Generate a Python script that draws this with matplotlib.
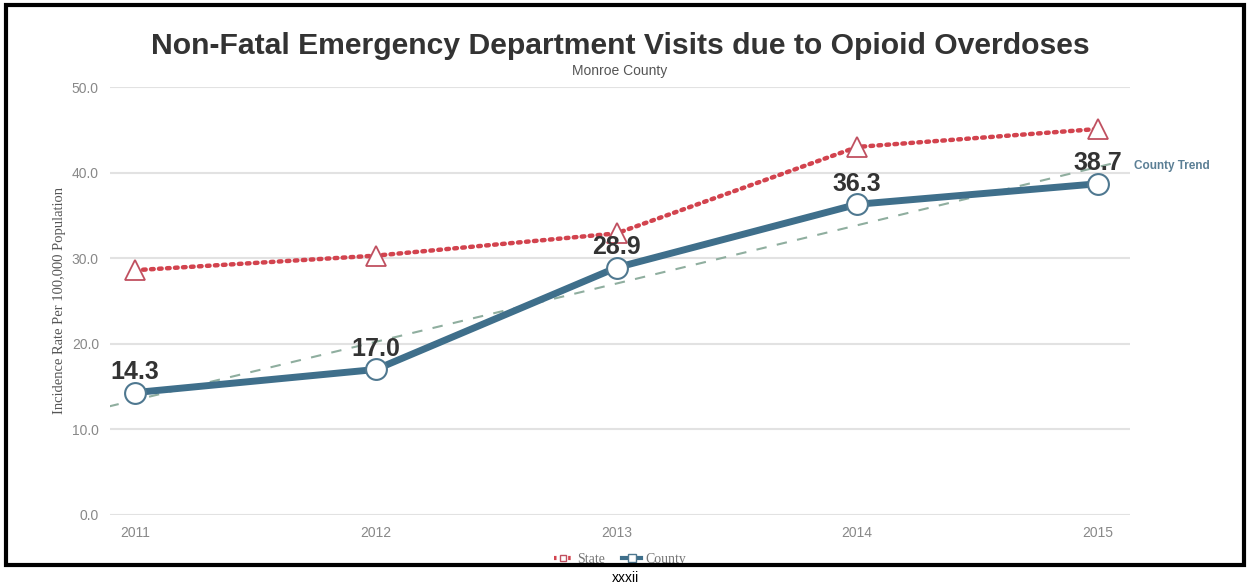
import numpy as np
import matplotlib
matplotlib.use("Agg")
import matplotlib.pyplot as plt
from matplotlib.patches import Rectangle
from matplotlib.lines import Line2D

years = [2011, 2012, 2013, 2014, 2015]
state = [28.6, 30.3, 32.9, 43.0, 45.1]
county = [14.3, 17.0, 28.9, 36.3, 38.7]
county_labels = ["14.3", "17.0", "28.9", "36.3", "38.7"]
yticks = [0, 10, 20, 30, 40, 50]

fig = plt.figure(figsize=(12.5, 5.86), dpi=100)
ax = fig.add_axes([0.088, 0.1212, 0.816, 0.7303])

# trend (least squares fit of the county series)
coef = np.polyfit(years, county, 1)
tx = np.array([2010.89, 2015.08])
ax.plot(tx, np.polyval(coef, tx), color="#8fae9f", lw=1.5, ls=(0, (5, 5)), zorder=2)

ax.plot(years, state, color="#d2434e", lw=3.2, ls=(0, (0.6, 1.2)),
        dash_capstyle="round", zorder=3)
ax.plot(years, state, ls="none", marker="^", ms=14, mfc="white",
        mec="#c05060", mew=1.3, zorder=4, clip_on=False)

ax.plot(years, county, color="#3f6f8b", lw=5, zorder=5, solid_capstyle="round")
ax.plot(years, county, ls="none", marker="o", ms=15, mfc="white",
        mec="#4f7890", mew=1.5, zorder=6, clip_on=False)

for x, y, s in zip(years, county, county_labels):
    ax.annotate(s, (x, y), xytext=(0, 6), textcoords="offset points",
                ha="center", va="bottom", fontsize=18, fontweight="bold",
                color="#333333", family="Liberation Sans", zorder=7)

ax.text(2015.15, 40.8, "County Trend", fontsize=8.5,
        fontweight="bold", color="#5b7f95", va="center", ha="left",
        family="Liberation Sans", clip_on=False)

ax.set_xlim(2010.896, 2015.133)
ax.set_ylim(0, 50)
ax.set_yticks(yticks)
ax.set_yticklabels([f"{v:.1f}" for v in yticks])
ax.set_xticks(years)
ax.set_xticklabels([str(y) for y in years])
ax.tick_params(length=0, labelsize=10, labelcolor="#888888", pad=8)
for lab in ax.get_xticklabels() + ax.get_yticklabels():
    lab.set_family("Liberation Sans")
ax.grid(axis="y", color="#e2e2e2", lw=1.5)
ax.set_axisbelow(True)
for sp in ax.spines.values():
    sp.set_visible(False)

ax.set_ylabel("Incidence Rate Per 100,000 Population", family="Liberation Serif",
              fontsize=10.5, color="#555555", labelpad=4)

fig.text(0.496, 0.921, "Non-Fatal Emergency Department Visits due to Opioid Overdoses",
         ha="center", va="center", fontsize=21.7, fontweight="bold",
         color="#333333", family="Liberation Sans")
fig.text(0.496, 0.879, "Monroe County", ha="center", va="center", fontsize=10,
         color="#555555", family="Liberation Sans")

handles = [Line2D([], [], color="#d2434e", lw=3, ls=(0, (0.6, 1.1)), marker="s",
                  ms=5, mfc="white", mec="#c05060"),
           Line2D([], [], color="#3f6f8b", lw=3, marker="s", ms=6,
                  mfc="white", mec="#4f7890")]
leg = fig.legend(handles, ["State", "County"], loc="center",
                 bbox_to_anchor=(0.496, 0.045), ncol=2, frameon=False,
                 prop={"family": "Liberation Serif", "size": 10},
                 handlelength=1.4, handletextpad=0.3, columnspacing=1.2,
                 labelcolor="#777777")

fig.patches.append(Rectangle((0.005, 0.036), 0.99, 0.955, transform=fig.transFigure,
                             fill=False, edgecolor="black", lw=3, zorder=10))
fig.patches.append(Rectangle((0.0, 0.0), 1.0, 0.036, transform=fig.transFigure,
                             facecolor="white", edgecolor="none", zorder=9))
fig.text(0.5, 0.014, "xxxii", ha="center", va="center", fontsize=10,
         color="black", family="Liberation Sans", zorder=12)

fig.savefig("out.png", dpi=100, facecolor="white")
